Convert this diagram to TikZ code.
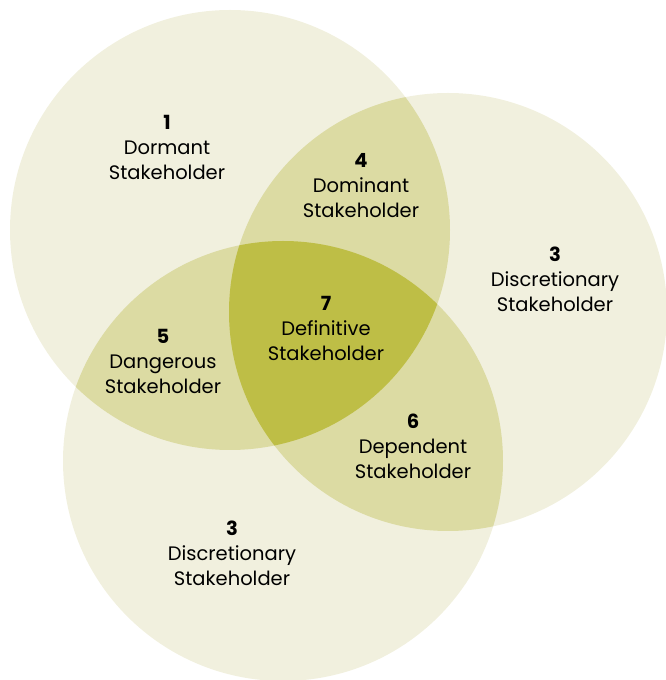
\documentclass[tikz,border=0pt]{standalone}
\usepackage{fontspec}
\setmainfont{Poppins}
\definecolor{lightc}{RGB}{241,240,222}
\definecolor{midc}{RGB}{220,219,163}
\definecolor{darkc}{RGB}{190,190,70}
\begin{document}
\begin{tikzpicture}[x=1pt,y=1pt,
  lbl/.style={align=center,inner sep=0pt,font=\fontsize{19.5}{25}\selectfont,text=black}]
\useasboundingbox (0,0) rectangle (665,680);
\coordinate (A) at (230,450);
\coordinate (B) at (448,368);
\coordinate (C) at (283,219);
\def\rA{220}\def\rB{219}\def\rC{220}
\fill[lightc] (A) circle (\rA);
\fill[lightc] (B) circle (\rB);
\fill[lightc] (C) circle (\rC);
\begin{scope}
  \clip (A) circle (\rA);
  \fill[midc] (B) circle (\rB);
  \fill[midc] (C) circle (\rC);
\end{scope}
\begin{scope}
  \clip (B) circle (\rB);
  \fill[midc] (C) circle (\rC);
\end{scope}
\begin{scope}
  \clip (A) circle (\rA);
  \clip (B) circle (\rB);
  \fill[darkc] (C) circle (\rC);
\end{scope}
\node[lbl] (n1) at (167,533) {\textbf{1}\\Dormant\\Stakeholder};
\node[lbl] (n4) at (361,494) {\textbf{4}\\Dominant\\Stakeholder};
\node[lbl] (n3r) at (555,401) {\textbf{3}\\Discretionary\\Stakeholder};
\node[lbl] (n7) at (326,352) {\textbf{7}\\Definitive\\Stakeholder};
\node[lbl] (n5) at (163,319) {\textbf{5}\\Dangerous\\Stakeholder};
\node[lbl] (n6) at (413,234) {\textbf{6}\\Dependent\\Stakeholder};
\node[lbl] (n3b) at (232,127) {\textbf{3}\\Discretionary\\Stakeholder};
\end{tikzpicture}
\end{document}
